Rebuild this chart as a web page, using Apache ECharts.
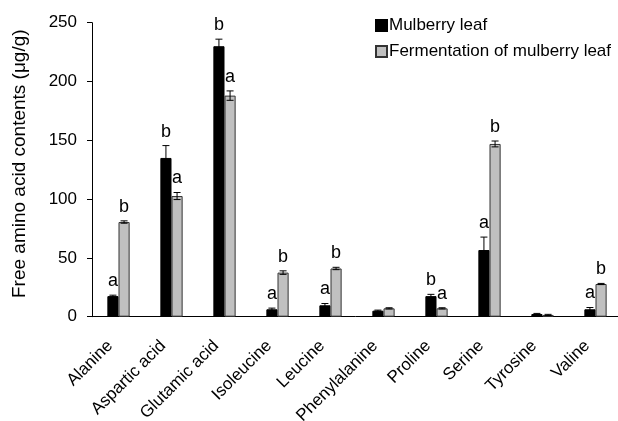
<!DOCTYPE html>
<html>
<head>
<meta charset="utf-8">
<script src="https://cdn.jsdelivr.net/npm/echarts@6/dist/echarts.min.js"></script>
<style>
  html, body { margin: 0; padding: 0; background: #fff; }
  #chart { width: 618px; height: 421px; }
</style>
</head>
<body>
<div id="chart"></div>
<script>
// Free amino acid contents (µg/g), mean ± error, with significance letters
const categories = ['Alanine', 'Aspartic acid', 'Glutamic acid', 'Isoleucine', 'Leucine',
  'Phenylalanine', 'Proline', 'Serine', 'Tyrosine', 'Valine'];

const leafValues = [17.5, 135, 230, 6.3, 9.7, 5.1, 17.5, 56.7, 2.3, 6.3];
const leafErrors = [0.8, 10.5, 6, 1, 1.5, 0.5, 1.5, 11, 0.5, 1.5];
const leafLetters = ['a', 'b', 'b', 'a', 'a', '', 'b', 'a', '', 'a'];

const fermValues = [80.5, 102.6, 188, 37.5, 41, 7.1, 7.1, 146.9, 1.5, 27.8];
const fermErrors = [1, 3, 4, 1.5, 1, 0.5, 0.5, 2.5, 0.5, 0.5];
const fermLetters = ['b', 'a', 'a', 'b', 'b', '', 'a', 'b', '', 'b'];

const yTicks = [0, 50, 100, 150, 200, 250];

const FONT = '"Liberation Sans", Arial, sans-serif';
const FS = 17;
const GAP_FRACTION = 0.58; // share of category width left empty

function errorSeries(name, values, errors, letters, side) {
  return {
    type: 'custom',
    name: name + ' error',
    z: 5,
    silent: true,
    data: values.map((v, i) => [i, v, errors[i]]),
    renderItem: function (params, api) {
      const idx = api.value(0);
      const v = api.value(1);
      const e = api.value(2);
      const letter = letters[idx];
      const catW = api.size([1, 0])[0];
      const bw = catW * (1 - GAP_FRACTION) / 2;
      const dx = side * bw / 2;
      const top = api.coord([idx, v + e]);
      const bot = api.coord([idx, Math.max(v - e, 0)]);
      const x = top[0] + dx;
      const cap = 3.5;
      const children = [
        { type: 'line', shape: { x1: x, y1: top[1], x2: x, y2: bot[1] }, style: { stroke: '#000', lineWidth: 1 } },
        { type: 'line', shape: { x1: x - cap, y1: top[1], x2: x + cap, y2: top[1] }, style: { stroke: '#000', lineWidth: 1 } },
        { type: 'line', shape: { x1: x - cap, y1: bot[1], x2: x + cap, y2: bot[1] }, style: { stroke: '#000', lineWidth: 1 } }
      ];
      if (letter) {
        children.push({
          type: 'text',
          style: {
            x: x, y: top[1] - 5, text: letter,
            textAlign: 'center', textVerticalAlign: 'bottom',
            font: '18px ' + FONT, fill: '#000'
          }
        });
      }
      return { type: 'group', children: children };
    }
  };
}

const chart = echarts.init(document.getElementById('chart'), null, { renderer: 'canvas' });

chart.setOption({
  animation: false,
  backgroundColor: '#fff',
  textStyle: { fontFamily: FONT },
  grid: { left: 92, right: -4, top: 22.7, bottom: 104.3, containLabel: false, outerBoundsMode: 'none' },
  legend: {
    orient: 'vertical',
    left: 370,
    top: 12,
    padding: 5,
    itemWidth: 11,
    itemHeight: 11,
    itemGap: 9,
    icon: 'rect',
    textStyle: { fontSize: FS, color: '#000', fontFamily: FONT, padding: [0, 0, 0, -3] },
    data: ['Mulberry leaf', 'Fermentation of mulberry leaf']
  },
  xAxis: {
    type: 'category',
    data: categories,
    axisLine: { lineStyle: { color: '#000', width: 1 } },
    axisTick: { show: false },
    axisLabel: {
      rotate: 45, fontSize: FS, color: '#000', fontFamily: FONT,
      interval: 0, margin: 18, padding: [0, 12, 0, 0]
    }
  },
  yAxis: {
    type: 'value',
    min: 0, max: 250, interval: 50,
    name: 'Free amino acid contents (μg/g)',
    nameLocation: 'middle',
    nameGap: 63,
    nameTextStyle: { fontSize: 19, color: '#000', fontFamily: FONT, padding: [0, 0, 0, 12] },
    axisLine: { show: true, lineStyle: { color: '#000', width: 1 } },
    axisTick: { show: true, inside: false, length: 5, lineStyle: { color: '#000' } },
    axisLabel: {
      fontSize: FS, color: '#000', fontFamily: FONT, margin: 15,
      formatter: v => (yTicks.indexOf(v) >= 0 ? String(v) : '')
    },
    splitLine: { show: false }
  },
  series: [
    {
      name: 'Mulberry leaf',
      type: 'bar',
      data: leafValues,
      barGap: '0%',
      barCategoryGap: (GAP_FRACTION * 100) + '%',
      itemStyle: { color: '#000', borderColor: '#000', borderWidth: 1 }
    },
    {
      name: 'Fermentation of mulberry leaf',
      type: 'bar',
      data: fermValues,
      barGap: '0%',
      barCategoryGap: (GAP_FRACTION * 100) + '%',
      itemStyle: { color: '#c0c0c0', borderColor: '#333', borderWidth: 1 }
    },
    errorSeries('Mulberry leaf', leafValues, leafErrors, leafLetters, -1),
    errorSeries('Fermentation of mulberry leaf', fermValues, fermErrors, fermLetters, 1)
  ]
});
</script>
</body>
</html>
